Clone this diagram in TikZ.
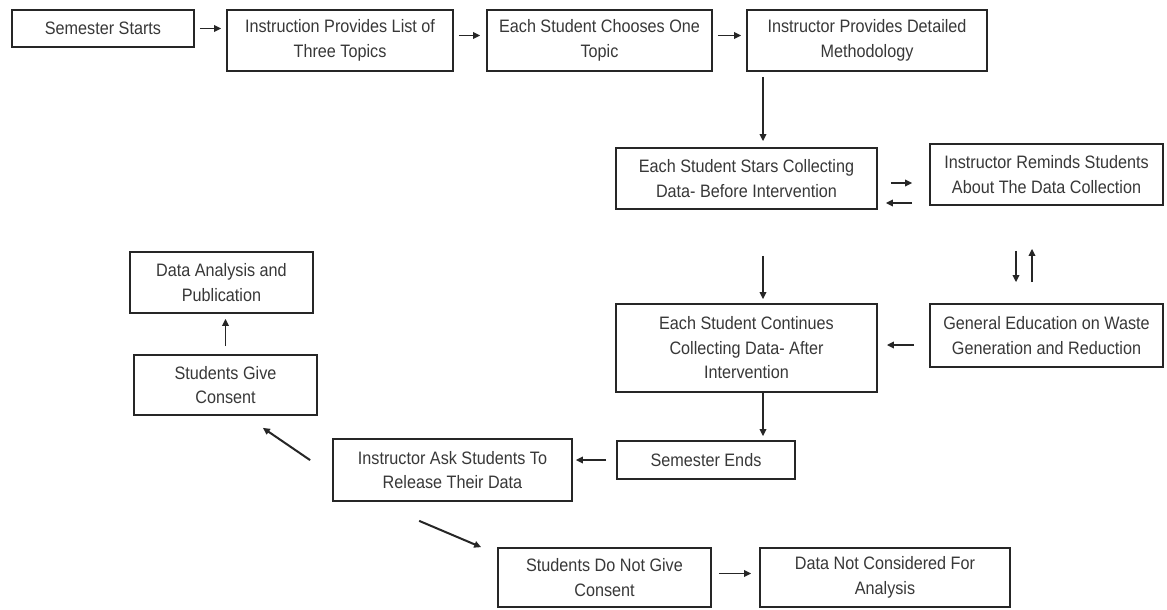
\documentclass[tikz,border=0pt]{standalone}
\usepackage{fontspec}
\setmainfont[FakeStretch=0.9]{Liberation Sans}
\usetikzlibrary{arrows.meta,calc}
\begin{document}
\begin{tikzpicture}[x=1pt,y=-1pt,
  box/.style={draw=black!85, line width=1.7pt, inner sep=0pt, align=center,
    text=black!78, font=\fontsize{18}{24.5}\selectfont},
  arr/.style={draw=black!85, line width=1.7pt, -{Triangle[length=7pt,width=6.5pt]}}]
\fill[white] (0,0) rectangle (1167,610);
\useasboundingbox (0,0) rectangle (1167,610);
% nodes
\node[box, minimum width=182pt, minimum height=37pt] (b1) at (103,28.5) {Semester Starts};
\node[box, minimum width=226pt, minimum height=61pt] (b2) at (340,40.5) {Instruction Provides List of\\Three Topics};
\node[box, minimum width=225pt, minimum height=61pt] (b3) at (599.5,40.5) {Each Student Chooses One\\Topic};
\node[box, minimum width=240pt, minimum height=61pt] (b4) at (867,40.5) {Instructor Provides Detailed\\Methodology};
\node[box, minimum width=261pt, minimum height=61pt] (b5) at (746.5,178.5) {Each Student Stars Collecting\\Data- Before Intervention};
\node[box, minimum width=233pt, minimum height=61pt] (b6) at (1046.5,174.5) {Instructor Reminds Students\\About The Data Collection};
\node[box, minimum width=233pt, minimum height=63pt] (b7) at (1046.5,335.5) {General Education on Waste\\Generation and Reduction};
\node[box, minimum width=261pt, minimum height=88pt] (b8) at (746.5,348) {Each Student Continues\\Collecting Data- After\\Intervention};
\node[box, minimum width=178pt, minimum height=38pt] (b9) at (706,460) {Semester Ends};
\node[box, minimum width=239pt, minimum height=62pt] (b10) at (452.5,470) {Instructor Ask Students To\\Release Their Data};
\node[box, minimum width=183pt, minimum height=60pt] (b11) at (225.5,385) {Students Give\\Consent};
\node[box, minimum width=183pt, minimum height=61pt] (b12) at (221.5,282.5) {Data Analysis and\\Publication};
\node[box, minimum width=213pt, minimum height=59pt] (b13) at (604.5,577.5) {Students Do Not Give\\Consent};
\node[box, minimum width=250pt, minimum height=59pt] (b14) at (885,577.5) {Data Not Considered For\\Analysis};
% helper coordinates
\coordinate (t23) at ($(b2.east)+(0,-5)$);
\coordinate (t34) at ($(b3.east)+(0,-5)$);
\coordinate (c45) at ($(b5.north)+(16.5,0)$);
\coordinate (r1) at ($(b5.east)+(0,4.5)$);
\coordinate (r2) at ($(b5.east)+(0,24.5)$);
\coordinate (v1) at ($(b7.north)+(-30.5,0)$);
\coordinate (v2) at ($(b7.north)+(-14.5,0)$);
\coordinate (c58) at ($(b8.north)+(16.5,0)$);
\coordinate (h1) at ($(b8.east)+(0,-3)$);
\coordinate (c89) at ($(b8.south)+(16.5,0)$);
\coordinate (h2) at ($(b13.east)+(0,-4)$);
% connectors
\draw[arr, shorten <=5pt, shorten >=5pt] (b1.east) -- (b1.east -| b2.west);
\draw[arr, shorten <=5pt, shorten >=6pt] (t23) -- (t23 -| b3.west);
\draw[arr, shorten <=5pt, shorten >=5pt] (t34) -- (t34 -| b4.west);
\draw[arr, shorten <=5pt, shorten >=6pt] (c45 |- b4.south) -- (c45);
\draw[arr, shorten <=13pt, shorten >=17pt] (r1) -- (r1 -| b6.west);
\draw[arr, shorten <=17pt, shorten >=8pt] (r2 -| b6.west) -- (r2);
\draw[arr, shorten <=45pt, shorten >=21pt] (v1 |- b6.south) -- (v1);
\draw[arr, shorten <=21pt, shorten >=43pt] (v2) -- (v2 |- b6.south);
\draw[arr, shorten <=46pt, shorten >=4pt] (c58 |- b5.south) -- (c58);
\draw[arr, shorten <=15pt, shorten >=9pt] (h1 -| b7.west) -- (h1);
\draw[arr, shorten >=4pt] (c89) -- (c89 |- b9.north);
\draw[arr, shorten <=10pt, shorten >=3pt] (b9.west) -- (b9.west -| b10.east);
\draw[arr, line width=2pt] ($(b10.north west)+(-22,22)$) -- ($(b11.south east)+(-55,12)$);
\draw[arr, shorten <=8pt, shorten >=5pt] (b11.north) -- (b11.north |- b12.south);
\draw[arr, line width=2pt] ($(b10.south west)+(87,19)$) -- ($(b13.north west)+(-16,0)$);
\draw[arr, shorten <=7pt, shorten >=8pt] (h2) -- (h2 -| b14.west);
\end{tikzpicture}
\end{document}
